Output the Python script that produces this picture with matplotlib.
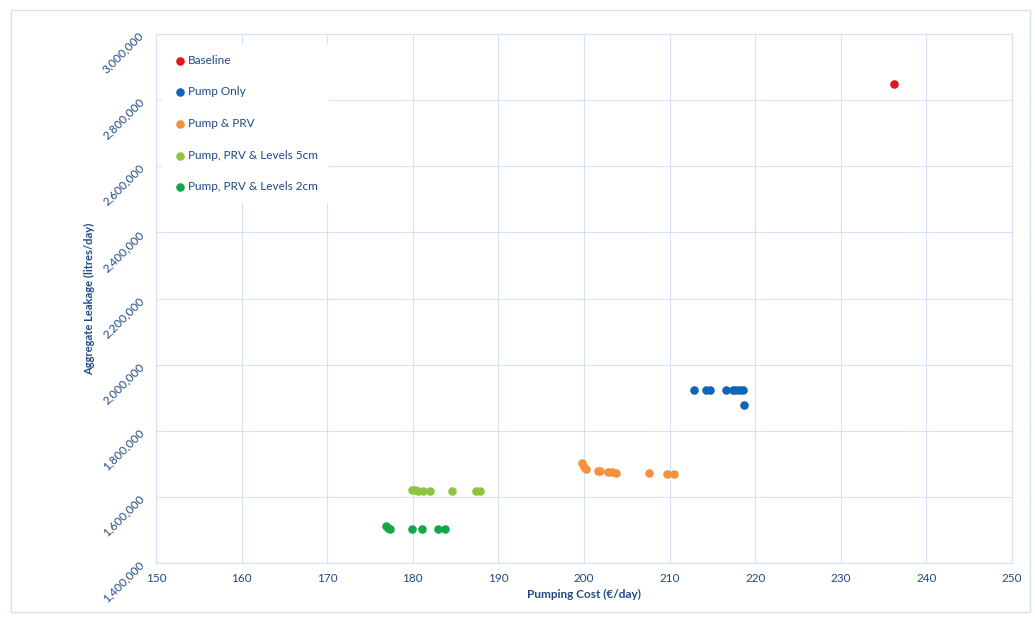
import matplotlib
matplotlib.use("Agg")
import matplotlib.pyplot as plt
from matplotlib.patches import Rectangle
from matplotlib.ticker import FuncFormatter, MultipleLocator

plt.rcParams["font.family"] = ["Lato", "DejaVu Sans"]

TEXT = "#1f4a85"
GRID = "#d3e2f4"

# pumping cost (EUR/day) vs aggregate leakage (litres/day) per scenario
baseline_cost = [236.2]
baseline_leak = [2849000]

pump_cost = [212.9, 214.3, 214.7, 216.6, 217.4, 217.8, 218.2, 218.6, 218.7]
pump_leak = [1922000, 1922000, 1922000, 1923000, 1923000, 1923000, 1923000, 1923000, 1878000]

prv_cost = [199.8, 200.0, 200.2, 201.6, 201.9, 202.8, 203.3, 203.7, 207.6, 209.7, 210.5]
prv_leak = [1702000, 1690000, 1684000, 1678000, 1678000, 1675000, 1675000, 1672000, 1672000, 1669000, 1669000]

lv5_cost = [179.9, 180.3, 180.6, 181.2, 182.0, 184.6, 187.4, 187.9]
lv5_leak = [1621000, 1620000, 1618000, 1618000, 1618000, 1617000, 1617000, 1617000]

lv2_cost = [176.9, 177.1, 177.3, 179.9, 181.1, 182.9, 183.8]
lv2_leak = [1512000, 1506000, 1504000, 1503000, 1503000, 1503000, 1503000]

series = [
    ("Baseline", baseline_cost, baseline_leak, "#e0161d"),
    ("Pump Only", pump_cost, pump_leak, "#0f65b6"),
    ("Pump & PRV", prv_cost, prv_leak, "#f5903c"),
    ("Pump, PRV & Levels 5cm", lv5_cost, lv5_leak, "#8cc63e"),
    ("Pump, PRV & Levels 2cm", lv2_cost, lv2_leak, "#12a84a"),
]

fig = plt.figure(figsize=(10.35, 6.17), dpi=100)
ax = fig.add_axes([0.1507, 0.0875, 0.8271, 0.8574])

for label, xs, ys, color in series:
    ax.scatter(xs, ys, s=38, color=color, label=label, zorder=3, linewidths=0)

ax.set_xlim(150, 250)
ax.set_ylim(1400000, 3000000)
ax.xaxis.set_major_locator(MultipleLocator(10))
ax.yaxis.set_major_locator(MultipleLocator(200000))
ax.yaxis.set_major_formatter(FuncFormatter(lambda v, p: f"{int(v):,}"))
ax.grid(True, color=GRID, linewidth=0.8)
ax.set_axisbelow(True)
for sp in ax.spines.values():
    sp.set_color(GRID)
    sp.set_linewidth(0.8)

ax.tick_params(axis="both", length=0, colors=TEXT, labelsize=8.5)
ax.tick_params(axis="x", pad=7)
ax.tick_params(axis="y", pad=10)
for t in ax.get_yticklabels():
    t.set_rotation(45)
    t.set_rotation_mode("anchor")
    t.set_ha("right")
    t.set_va("center")

ax.set_xlabel("Pumping Cost (€/day)", color=TEXT, fontsize=8.5, fontweight="bold", labelpad=4)
ax.set_ylabel("Aggregate Leakage (litres/day)", color=TEXT, fontsize=8, fontweight="bold", labelpad=4)

leg = ax.legend(loc="upper left", bbox_to_anchor=(0.007, 0.981), frameon=True,
                facecolor="white", edgecolor="none", framealpha=1, fontsize=8.5,
                labelspacing=1.75, handletextpad=0.1, handlelength=1.2,
                borderpad=0.9, borderaxespad=0)
leg.get_frame().set_boxstyle("square", pad=0)
for t in leg.get_texts():
    t.set_color(TEXT)

# chart area border
fig.patches.append(Rectangle((0.0106, 0.008), 0.985, 0.976, transform=fig.transFigure,
                             fill=False, edgecolor=GRID, linewidth=1.0))

fig.savefig("out.png", dpi=100)
